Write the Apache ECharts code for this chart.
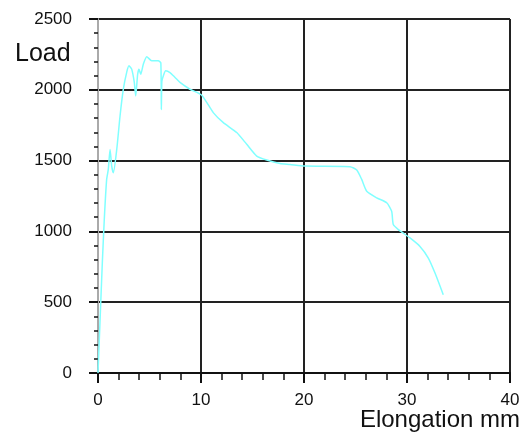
<!DOCTYPE html>
<html>
<head>
<meta charset="utf-8">
<script src="https://cdn.jsdelivr.net/npm/echarts@6/dist/echarts.min.js"></script>
<style>html,body{margin:0;padding:0;background:#fff}#c{width:529px;height:434px}</style>
</head>
<body>
<div id="c"></div>
<script>
// Elongation (mm) and Load values
var elongation = [0, 0.19, 0.42, 0.61, 0.84, 1.0, 1.17, 1.33, 1.49, 1.82, 2.14, 2.46, 2.79, 3.01, 3.27, 3.52, 3.66, 3.85, 3.98, 4.15, 4.40, 4.73, 5.21, 5.85, 6.10, 6.15, 6.20, 6.34, 6.57, 6.99, 7.48, 7.96, 8.93, 10.07, 11.19, 12.17, 13.47, 14.44, 15.41, 16.38, 17.67, 18.64, 20.10, 24.47, 25.12, 25.60, 26.09, 27.06, 28.03, 28.51, 28.67, 29.16, 30.29, 31.26, 32.07, 32.72, 33.52];
var load = [0, 354, 779, 1084, 1367, 1438, 1579, 1461, 1414, 1579, 1815, 2004, 2125, 2169, 2146, 2054, 1957, 2110, 2146, 2110, 2181, 2234, 2205, 2205, 2190, 1860, 2060, 2098, 2134, 2122, 2087, 2052, 2004, 1962, 1839, 1768, 1698, 1615, 1532, 1504, 1480, 1473, 1461, 1457, 1433, 1367, 1284, 1237, 1202, 1142, 1048, 1013, 954, 894, 812, 706, 553];
var xTicks = [0, 10, 20, 30, 40];
var yTicks = [0, 500, 1000, 1500, 2000, 2500];
var xName = 'Elongation mm';
var yName = 'Load';

var pts = elongation.map(function (x, i) { return [x, load[i]]; });
var chart = echarts.init(document.getElementById('c'));
var font = 'Liberation Sans, Arial, sans-serif';
chart.setOption({
  animation: false,
  grid: { left: 98, right: 19, top: 19, bottom: 61 },
  xAxis: {
    type: 'value', min: xTicks[0], max: xTicks[xTicks.length - 1], interval: xTicks[1] - xTicks[0],
    axisLine: { lineStyle: { color: '#111', width: 2 } },
    axisTick: { show: true, length: 10, lineStyle: { color: '#111', width: 2 } },
    minorTick: { show: true, splitNumber: 5, length: 7, lineStyle: { color: '#111', width: 1.5 } },
    splitLine: { show: true, showMinLine: false, lineStyle: { color: '#222', width: 2 } },
    axisLabel: { margin: 19, fontSize: 17, color: '#111', fontFamily: font, formatter: function (v) { return String(v); } }
  },
  yAxis: {
    type: 'value', min: yTicks[0], max: yTicks[yTicks.length - 1], interval: yTicks[1] - yTicks[0],
    axisLine: { show: true, lineStyle: { color: '#aaa', width: 2 } },
    axisTick: { show: true, length: 9, lineStyle: { color: '#111', width: 2 } },
    minorTick: { show: true, splitNumber: 5, length: 4, lineStyle: { color: '#111', width: 1.5 } },
    splitLine: { show: true, showMinLine: false, lineStyle: { color: '#222', width: 2 } },
    axisLabel: { margin: 26, fontSize: 17, color: '#111', fontFamily: font, formatter: function (v) { return String(v); } }
  },
  graphic: [
    { type: 'text', right: 9, top: 408, style: { text: xName, fontSize: 24, fill: '#111', fontFamily: font } },
    { type: 'text', left: 15, top: 42, style: { text: yName, fontSize: 25, fill: '#111', fontFamily: font } }
  ],
  series: [{
    type: 'line', data: pts, showSymbol: false, smooth: 0.2,
    lineStyle: { color: '#80ffff', width: 1.5 }, z: 1
  }]
});
</script>
</body>
</html>
